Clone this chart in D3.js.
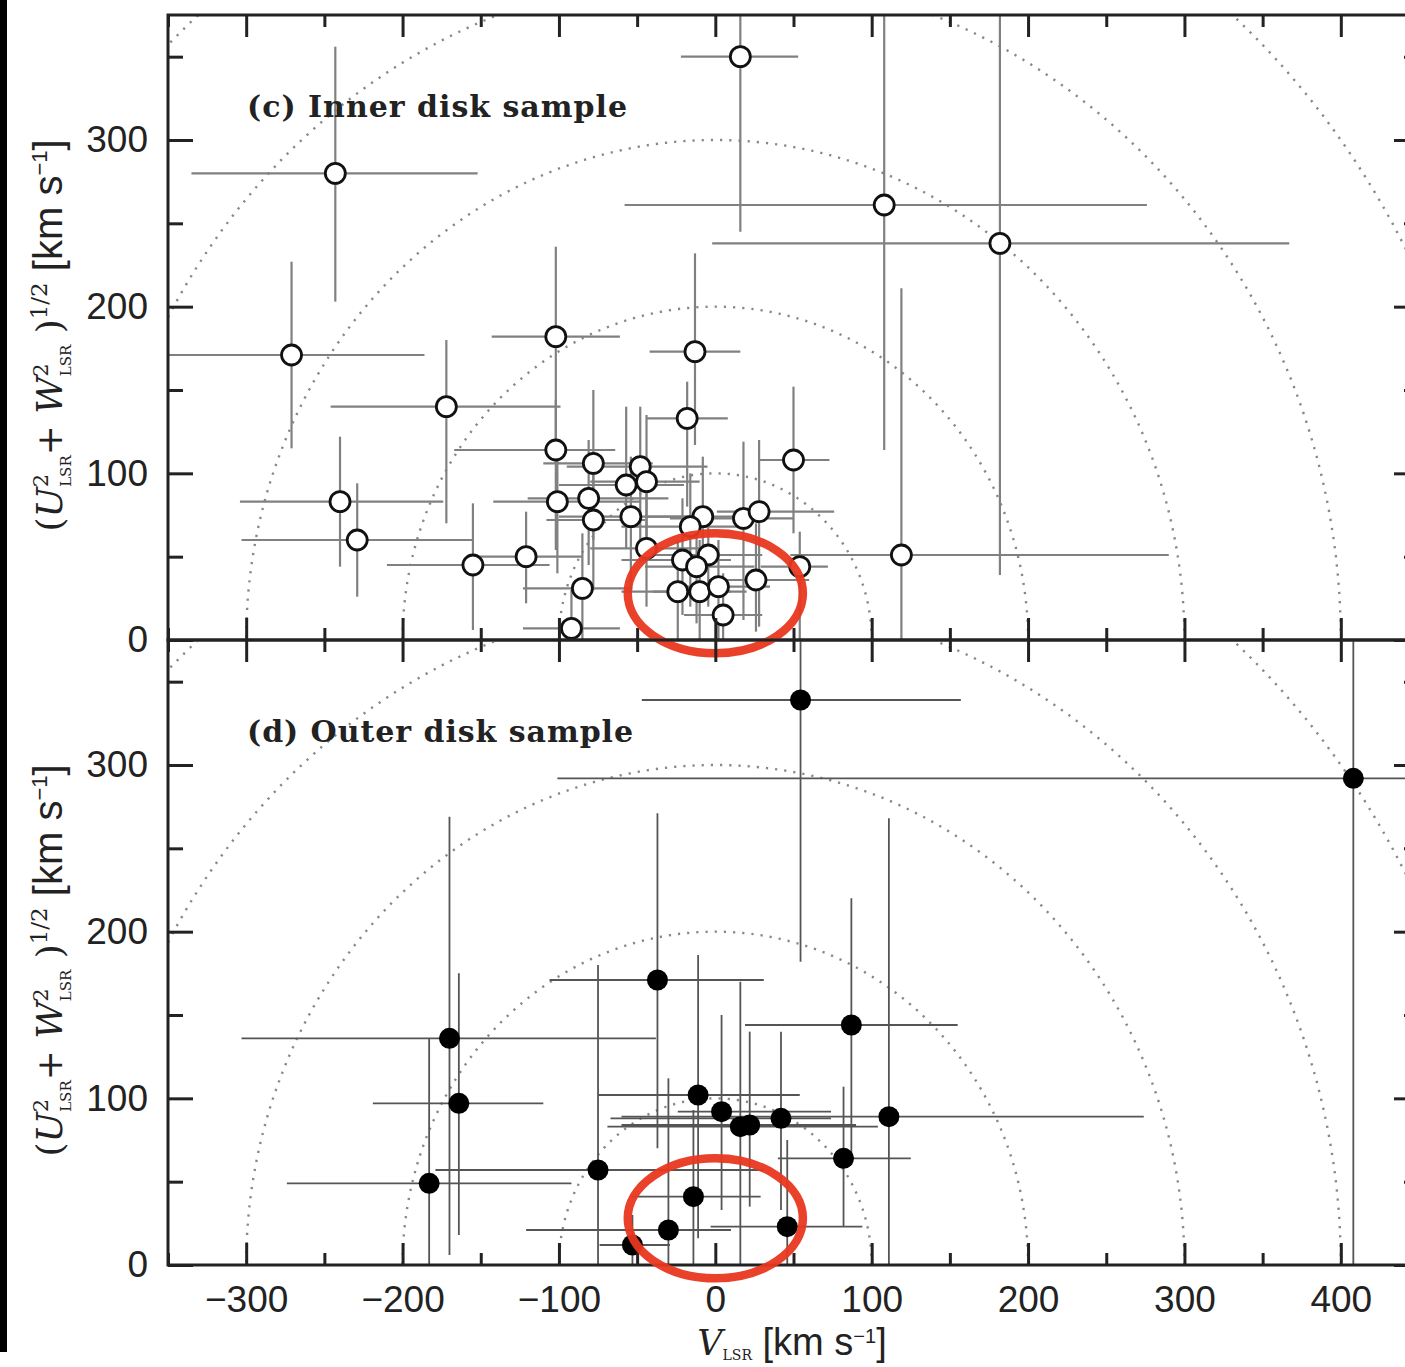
<!DOCTYPE html>
<html><head><meta charset="utf-8">
<script src="https://cdn.jsdelivr.net/npm/d3@7"></script>
<style>html,body{margin:0;padding:0;background:#fff;}svg{display:block;}</style>
</head><body>
<svg id="chart" width="1405" height="1367"></svg>
<script>
// ---------- DATA ----------
// Inner disk sample (open circles)
const innerV     = [16,-243,108,182,-271,-102,-13,-18,-172,-240,-229,-155,-121,-102,-101,-78,-81,-78,-85,-92,-48,-57,-44,-54,-44,50,-8,-16,18,28,54,119,-4.5,-21,-12,-24,-10,2,26,5];
const innerUW    = [350,280,261,238,171,182,173,133,140,83,60,45,50,114,83,106,85,72,31,7,104,93,95,74,55,108,74,68,73,77,44,51,51,48,44,29,29,32,36,15];
const innerVMin  = [-22,-335,-58,-2,-360,-143,-42,-44,-246,-304,-303,-210,-151,-167,-142,-110,-120,-108,-123,-123,-95,-100,-80,-100,-80,28,-45,-60,-29,1,29,48,-40,-60,-45,-60,-40,-30,-5,-20];
const innerVMax  = [53,-152,276,367,-186,-61,16,8,-99,-174,-155,-106,-85,-64,-48,-40,-30,-45,-53,-61,-5,-20,-10,-10,0,73,30,20,50,76,72,290,30,10,25,10,20,35,60,30];
const innerUWMin = [245,203,114,39,115,110,117,80,70,44,26,6,22,54,40,60,45,30,0,0,60,55,50,30,20,64,40,20,12,8,0,0,20,15,10,0,0,0,5,0];
const innerUWMax = [400,356,400,400,227,236,232,155,180,122,94,82,77,144,120,150,120,110,64,30,140,140,135,110,90,152,110,100,119,120,65,211,80,85,80,60,60,60,70,40];

// Outer disk sample (filled circles)
const outerV     = [-170,-164,-183,-75,-37,54.5,408,87,111,82,42,16,22,4,-11,-14,-30,-53,46];
const outerUW    = [136,97,49,57,171,339,292,144,89,64,88,83,84,92,102,41,21,12,23];
const outerVMin  = [-303,-219,-274,-179,-106,-47,-101,19,-60,40,-67,-69,-60,-24,-75,-54,-121,-74,-3];
const outerVMax  = [-38,-110,-92,31,31,157,500,155,274,125,74,104,90,74,54,29,10,-29,94];
const outerUWMin = [6,18,0,0,70,182,0,60,0,23,33,0,35,33,16,0,0,0,0];
const outerUWMax = [269,175,136,180,271,400,400,220,268,107,140,170,140,150,186,93,112,30,75];

const xMajorTicks = [-300,-200,-100,0,100,200,300,400];
const yMajorTicks = [0,100,200,300];
const circleRadii = [100,200,300,400,500,600];
const panelLabels = ["(c) Inner disk sample","(d) Outer disk sample"];
// hand-drawn highlight ellipses: centre (V, UW) and half-axes in data units
const highlightCentre = [0, 28];
const highlightHalfAxes = [56, 36];

// ---------- LAYOUT ----------
const svg = d3.select("#chart");
const x = d3.scaleLinear().domain([-350,450]).range([168,1419]);
const yTop = d3.scaleLinear().domain([0,375]).range([640,15]);
const yBot = d3.scaleLinear().domain([0,375]).range([1265,640]);

// left black strip of the scan
svg.append("rect").attr("x",0).attr("y",0).attr("width",7).attr("height",1352).attr("fill","#000");

function mkPanel(id, y, V, UW, Vmin, Vmax, UWmin, UWmax, filled, label, showXLabels) {
  const g = svg.append("g");
  const [x0,x1] = x.range(); const [yb,yt] = y.range();
  svg.append("clipPath").attr("id",id).append("rect")
     .attr("x",x0).attr("y",yt).attr("width",x1-x0).attr("height",yb-yt);
  const clip = g.append("g").attr("clip-path",`url(#${id})`);

  // dotted circles
  const line = d3.line().x(d=>x(d[0])).y(d=>y(d[1]));
  circleRadii.forEach(r=>{
    const pts = d3.range(0,181,1).map(a=>[r*Math.cos(a*Math.PI/180), r*Math.sin(a*Math.PI/180)]);
    clip.append("path").attr("d",line(pts)).attr("fill","none")
      .attr("stroke","#888").attr("stroke-width",2.4).attr("stroke-dasharray","2.2 7");
  });

  // error bars
  const col = filled ? "#555" : "#808080";
  const sw = filled ? 1.8 : 2.2;
  V.forEach((v,i)=>{
    clip.append("line").attr("x1",x(Vmin[i])).attr("x2",x(Vmax[i]))
      .attr("y1",y(UW[i])).attr("y2",y(UW[i])).attr("stroke",col).attr("stroke-width",sw);
    clip.append("line").attr("x1",x(v)).attr("x2",x(v))
      .attr("y1",y(UWmin[i])).attr("y2",y(UWmax[i])).attr("stroke",col).attr("stroke-width",sw);
  });
  // markers
  V.forEach((v,i)=>{
    clip.append("circle").attr("cx",x(v)).attr("cy",y(UW[i])).attr("r", filled?10.5:10)
      .attr("fill", filled?"#000":"#fff").attr("stroke","#111").attr("stroke-width", filled?0:2.8);
  });

  // axes (ticks inward on all 4 sides)
  const fmt = d3.format("d");
  const bottom = d3.axisBottom(x).tickValues(xMajorTicks).tickSize(-22).tickPadding(21)
      .tickFormat(showXLabels ? (d=>fmt(d)) : ()=> "");
  g.append("g").attr("transform",`translate(0,${yb})`).call(bottom);
  const bottomMinor = d3.axisBottom(x).tickValues(d3.range(-350,451,50).filter(d=>d%100!==0)).tickSize(-12).tickFormat("");
  g.append("g").attr("transform",`translate(0,${yb})`).call(bottomMinor);
  const top = d3.axisTop(x).tickValues(xMajorTicks).tickSize(-22).tickFormat("");
  g.append("g").attr("transform",`translate(0,${yt})`).call(top);
  const topMinor = d3.axisTop(x).tickValues(d3.range(-350,451,50).filter(d=>d%100!==0)).tickSize(-12).tickFormat("");
  g.append("g").attr("transform",`translate(0,${yt})`).call(topMinor);
  const left = d3.axisLeft(y).tickValues(yMajorTicks).tickSize(-25).tickPadding(20).tickFormat(fmt);
  g.append("g").attr("transform",`translate(${x0},0)`).call(left);
  const leftMinor = d3.axisLeft(y).tickValues([50,150,250,350]).tickSize(-15).tickFormat("");
  g.append("g").attr("transform",`translate(${x0},0)`).call(leftMinor);
  const right = d3.axisRight(y).tickValues(yMajorTicks).tickSize(-25).tickFormat("");
  g.append("g").attr("transform",`translate(${x1},0)`).call(right);
  const rightMinor = d3.axisRight(y).tickValues([50,150,250,350]).tickSize(-15).tickFormat("");
  g.append("g").attr("transform",`translate(${x1},0)`).call(rightMinor);

  g.selectAll(".domain").remove();
  g.selectAll(".tick line").attr("stroke","#222").attr("stroke-width",3);
  g.selectAll(".tick text").attr("font-family","'Liberation Sans', Arial, sans-serif")
    .attr("font-size",37).attr("fill","#222");

  g.append("rect").attr("x",x0).attr("y",yt).attr("width",x1-x0).attr("height",yb-yt)
    .attr("fill","none").attr("stroke","#222").attr("stroke-width",3);

  // panel label
  g.append("text").attr("x",247).attr("y",yt+102).attr("font-family","'DejaVu Serif', serif")
    .attr("font-weight","bold").attr("font-size",30).attr("fill","#222")
    .attr("textLength", label.startsWith("(c)")?380:386).attr("lengthAdjust","spacing").text(label);

  // highlight ellipse
  g.append("ellipse").attr("cx",x(highlightCentre[0])).attr("cy",y(highlightCentre[1]))
    .attr("rx",x(highlightHalfAxes[0])-x(0)).attr("ry",y(0)-y(highlightHalfAxes[1]))
    .attr("fill","none").attr("stroke","#e8371f").attr("stroke-width",8.5).attr("opacity",0.95);

  // y title
  const cy = (yb+yt)/2 + 8;
  const t = g.append("text").attr("transform",`translate(62,${cy}) rotate(-90)`)
    .attr("text-anchor","middle").attr("font-size",36).attr("fill","#222")
    .attr("font-family","'DejaVu Serif', serif");
  t.append("tspan").text("(");
  t.append("tspan").attr("font-style","italic").text("U");
  t.append("tspan").attr("font-size",21).attr("dy",-14).text("2");
  t.append("tspan").attr("font-size",15).attr("dx",-13).attr("dy",23).text("LSR");
  t.append("tspan").attr("dy",-9).text("+ ");
  t.append("tspan").attr("font-style","italic").text("W");
  t.append("tspan").attr("font-size",21).attr("dy",-14).text("2");
  t.append("tspan").attr("font-size",15).attr("dx",-13).attr("dy",23).text("LSR");
  t.append("tspan").attr("dy",-9).text(" )");
  t.append("tspan").attr("font-size",23).attr("dy",-15).text("1/2");
  t.append("tspan").attr("dy",15).attr("font-size",40).attr("font-family","'Liberation Sans', sans-serif").text(" [km s");
  t.append("tspan").attr("font-size",22).attr("dy",-15).attr("font-family","'Liberation Sans', sans-serif").text("−1");
  t.append("tspan").attr("dy",15).attr("font-size",40).attr("font-family","'Liberation Sans', sans-serif").text("]");
}

mkPanel("clipTop", yTop, innerV, innerUW, innerVMin, innerVMax, innerUWMin, innerUWMax, false, panelLabels[0], false);
mkPanel("clipBot", yBot, outerV, outerUW, outerVMin, outerVMax, outerUWMin, outerUWMax, true, panelLabels[1], true);

// x title
const xt = svg.append("text").attr("x",792).attr("y",1355).attr("text-anchor","middle")
  .attr("font-size",38).attr("fill","#222").attr("font-family","'Liberation Sans', sans-serif");
xt.append("tspan").attr("font-family","'DejaVu Serif', serif").attr("font-size",35).attr("font-style","italic").text("V");
xt.append("tspan").attr("font-family","'DejaVu Serif', serif").attr("font-size",14).attr("dy",5).text("LSR");
xt.append("tspan").attr("dy",-5).text(" [km s");
xt.append("tspan").attr("font-size",20).attr("dy",-12).text("−1");
xt.append("tspan").attr("dy",12).text("]");
</script>
</body></html>
